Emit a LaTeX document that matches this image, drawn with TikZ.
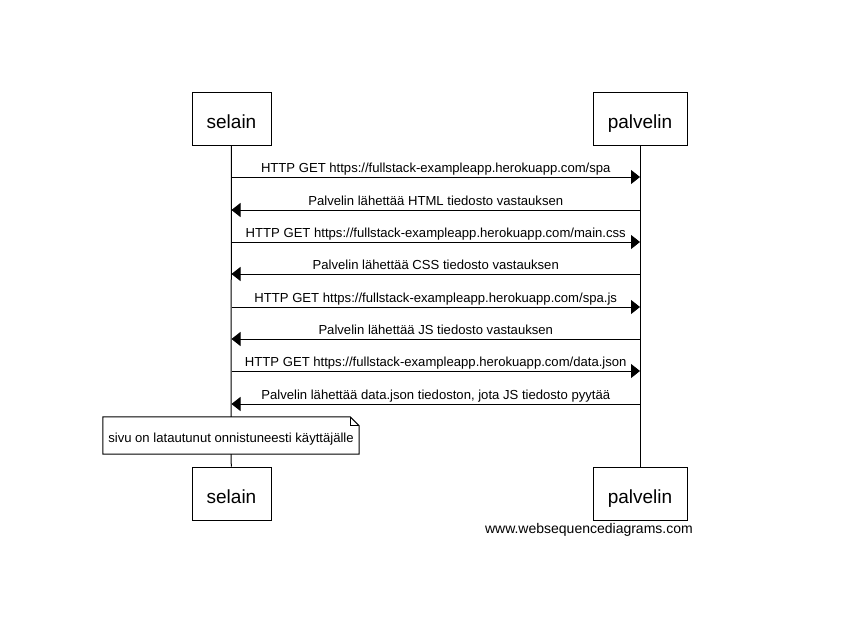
\documentclass[tikz,border=0pt]{standalone}
\usepackage{fontspec}
\setmainfont{Liberation Sans}
\usetikzlibrary{arrows.meta}

\begin{document}
\begin{tikzpicture}[line cap=butt,line join=miter,>={Triangle[length=9pt,width=14pt]},x=1pt,y=-1pt,
  actor/.style={draw,line width=1pt,minimum height=53pt,text height=19pt,text depth=0pt,font=\fontsize{19}{22}\selectfont},
  msg/.style={midway,above=4pt,inner sep=0pt,text depth=0pt,font=\fontsize{13.1}{15}\selectfont},
  note/.style={inner sep=0pt,minimum width=256pt,minimum height=37pt,text height=13pt,text depth=0pt,font=\fontsize{13.1}{15}\selectfont}]
\useasboundingbox (0,0) rectangle (850,640);

\node[actor,minimum width=79pt] (selain) at (231.5,118.5) {selain};
\node[actor,minimum width=94pt] (palvelin) at (640,118.5) {palvelin};
\node[actor,minimum width=79pt] (selainB) at (231.5,493.5) {selain};
\node[actor,minimum width=94pt] (palvelinB) at (640,493.5) {palvelin};
\node[note] (note) at (231,435.5) {sivu on latautunut onnistuneesti käyttäjälle};

\draw[line width=1pt] (selain) -- (note);
\draw[line width=1pt] (note) -- (selainB);
\draw[line width=1pt] (palvelin) -- (palvelinB);

\coordinate (s1) at (231.5,177); \coordinate (p1) at (640,177);
\coordinate (s2) at (231.5,210); \coordinate (p2) at (640,210);
\coordinate (s3) at (231.5,242); \coordinate (p3) at (640,242);
\coordinate (s4) at (231.5,274); \coordinate (p4) at (640,274);
\coordinate (s5) at (231.5,307); \coordinate (p5) at (640,307);
\coordinate (s6) at (231.5,339); \coordinate (p6) at (640,339);
\coordinate (s7) at (231.5,371); \coordinate (p7) at (640,371);
\coordinate (s8) at (231.5,404); \coordinate (p8) at (640,404);

\draw[->,line width=1pt] (s1) -- node[msg] {HTTP GET https://fullstack-exampleapp.herokuapp.com/spa} (p1);
\draw[->,line width=1pt] (p2) -- node[msg] {Palvelin lähettää HTML tiedosto vastauksen} (s2);
\draw[->,line width=1pt] (s3) -- node[msg] {HTTP GET https://fullstack-exampleapp.herokuapp.com/main.css} (p3);
\draw[->,line width=1pt] (p4) -- node[msg] {Palvelin lähettää CSS tiedosto vastauksen} (s4);
\draw[->,line width=1pt] (s5) -- node[msg] {HTTP GET https://fullstack-exampleapp.herokuapp.com/spa.js} (p5);
\draw[->,line width=1pt] (p6) -- node[msg] {Palvelin lähettää JS tiedosto vastauksen} (s6);
\draw[->,line width=1pt] (s7) -- node[msg] {HTTP GET https://fullstack-exampleapp.herokuapp.com/data.json} (p7);
\draw[->,line width=1pt] (p8) -- node[msg] {Palvelin lähettää data.json tiedoston, jota JS tiedosto pyytää} (s8);

\draw[line width=1pt] (note.south west) -- (note.north west) -- ([xshift=-9pt]note.north east) -- ([yshift=-9pt]note.north east) -- (note.south east) -- cycle;
\draw[line width=1pt] ([xshift=-9pt]note.north east) |- ([yshift=-9pt]note.north east);

\node[anchor=base east,inner sep=0pt,font=\fontsize{14}{16}\selectfont] (wsd) at (693,533) {www.websequencediagrams.com};

\end{tikzpicture}
\end{document}
